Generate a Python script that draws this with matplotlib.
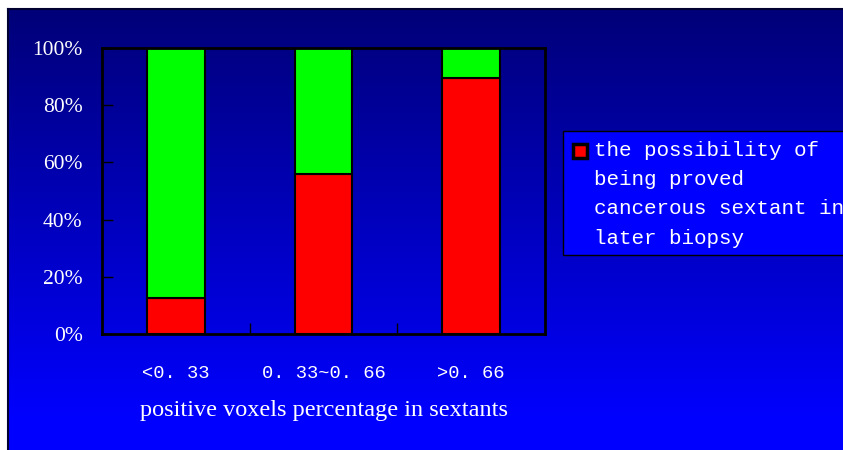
import matplotlib.pyplot as plt
from matplotlib.patches import Rectangle
import numpy as np

# data
categories = ['<0. 33', '0. 33~0. 66', '>0. 66']
red_vals = [12.5, 56, 89.5]      # possibility of being proved cancerous
green_vals = [100 - v for v in red_vals]
yticks = [0, 20, 40, 60, 80, 100]
legend_label = 'the possibility of\nbeing proved\ncancerous sextant in\nlater biopsy'
xlabel = 'positive voxels percentage in sextants'

W, H = 843, 450
fig = plt.figure(figsize=(W / 100, H / 100), dpi=100)
fig.patch.set_facecolor('white')

# gradient background (navy at top -> blue at bottom)
bg = fig.add_axes([8 / W, 0, (W - 8) / W, (H - 9) / H])
grad = np.linspace(0, 1, 441)
grad = np.clip(grad / 0.93, 0, 1)
img = np.zeros((441, 1, 3))
img[:, 0, 2] = 0.47 + 0.53 * grad
bg.imshow(img, aspect='auto', extent=[0, 1, 1, 0])
bg.set_xlim(0, 1)
bg.set_ylim(1, 0)
bg.set_xticks([])
bg.set_yticks([])
for s in bg.spines.values():
    s.set_color('#000030')
    s.set_linewidth(1.5)
bg.spines['right'].set_visible(False)
bg.spines['bottom'].set_visible(False)

# main plot
ax = fig.add_axes([102 / W, (H - 334) / H, 443 / W, 286 / H])
ax.patch.set_alpha(0)
x = np.arange(len(categories))
ax.bar(x, red_vals, width=0.39, color='#ff0000', edgecolor='black', linewidth=1.5)
ax.bar(x, green_vals, bottom=red_vals, width=0.39, color='#00ff00',
       edgecolor='black', linewidth=1.5)

ax.set_xlim(-0.5, 2.5)
ax.set_ylim(0, 100)
for s in ax.spines.values():
    s.set_linewidth(2)
    s.set_color('black')

ax.set_yticks(yticks)
ax.set_yticklabels([f'{v}%' for v in yticks], family='Liberation Serif',
                   fontsize=15.5, color='white')
ax.tick_params(axis='y', direction='in', length=8, width=1, pad=14, color='black')

ax.set_xticks(x)
ax.set_xticklabels(categories, family='Liberation Mono', fontsize=13.5, color='white')
ax.tick_params(axis='x', which='major', length=0, pad=22)
ax.set_xticks([0.5, 1.5], minor=True)
ax.tick_params(axis='x', which='minor', direction='in', length=8, width=1, color='black')

ax.set_xlabel(xlabel, family='Liberation Serif', fontsize=17.5, color='white',
              labelpad=13)

# legend box, drawn at figure level
fig.patches.append(Rectangle((563 / W, (H - 255) / H), 300 / W, 124 / H,
                             transform=fig.transFigure, facecolor='#0000ff',
                             edgecolor='black', linewidth=1))
fig.patches.append(Rectangle((573 / W, (H - 158) / H), 14 / W, 14 / H,
                             transform=fig.transFigure, facecolor='#ff0000',
                             edgecolor='black', linewidth=2.5))
fig.text(594 / W, (H - 141) / H, legend_label, family='Liberation Mono',
         fontsize=15, color='white', va='top', ha='left', linespacing=1.68)

fig.savefig('out.png', dpi=100)
